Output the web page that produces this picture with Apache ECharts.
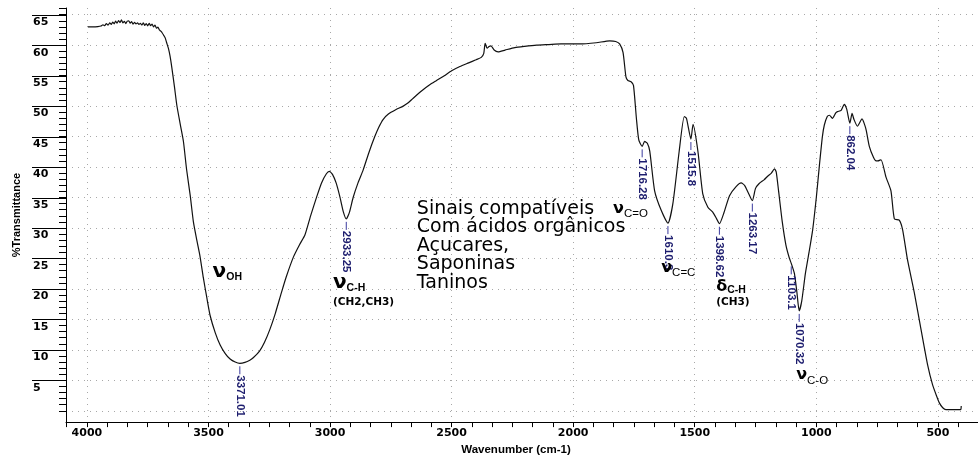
<!DOCTYPE html>
<html>
<head>
<meta charset="utf-8">
<script src="https://cdn.jsdelivr.net/npm/echarts@6/dist/echarts.min.js"></script>
<style>
  html, body { margin: 0; padding: 0; background: #fff; }
  #chart { width: 978px; height: 461px; }
</style>
</head>
<body>
<div id="chart"></div>
<script>
// FTIR spectrum: wavenumber (cm-1) vs % transmittance
const waveNumber = [
  3996, 3975, 3955, 3942, 3934, 3927, 3920, 3913, 3906, 3900, 3894, 3888, 3882, 3876, 3870, 3864,
  3858, 3852, 3846, 3840, 3834, 3828, 3822, 3816, 3810, 3804, 3798, 3792, 3786, 3780, 3774, 3768,
  3762, 3756, 3750, 3744, 3738, 3732, 3726, 3720, 3714, 3708, 3702, 3696, 3690, 3684, 3678, 3672,
  3665, 3658, 3651, 3640, 3630, 3616, 3603, 3590, 3575, 3562, 3548, 3535, 3521, 3507, 3493, 3472,
  3452, 3431, 3411, 3390, 3371.01, 3350, 3330, 3316, 3290, 3270, 3247, 3225, 3200, 3180, 3150, 3125,
  3103, 3080, 3055, 3035, 3015, 3003, 2990, 2975, 2960, 2945, 2933.25, 2920, 2905, 2885, 2864, 2840,
  2816, 2800, 2782, 2760, 2730, 2699, 2680, 2658, 2620, 2590, 2562, 2530, 2500, 2466, 2430, 2400,
  2378, 2368, 2362, 2354, 2346, 2338, 2325, 2309, 2280, 2240, 2200, 2150, 2100, 2050, 1973, 1905,
  1850, 1825, 1809, 1795, 1783, 1775, 1762, 1752, 1740, 1730, 1716.28, 1706, 1695, 1685, 1665, 1638,
  1610.3, 1590, 1564, 1543, 1534, 1515.8, 1507, 1487, 1467, 1446, 1426, 1410, 1398.62, 1380, 1357, 1330,
  1309, 1295, 1280, 1263.17, 1250, 1235, 1215, 1200, 1185, 1172, 1165, 1155, 1140, 1125, 1112, 1103.1,
  1090, 1080, 1070.32, 1060, 1045, 1030, 1015, 1000, 987, 975, 967, 955, 946, 934, 920, 913,
  898, 885, 875, 862.04, 853, 845, 831, 812, 800, 794, 782, 765, 754, 747, 734, 713,
  693, 679, 659, 645, 625, 597, 570, 542, 522, 505, 494, 480, 467, 440, 420, 406, 404
];
const transmittance = [
  63.0, 63.0, 63.05, 63.15, 63.35, 63.2, 63.55, 63.3, 63.65, 63.4, 63.8, 63.5, 63.95, 63.6, 64.05, 63.7,
  64.15, 63.65, 63.9, 63.55, 63.95, 64.0, 63.6, 63.85, 63.45, 63.75, 63.5, 63.65, 63.4, 63.6, 63.3, 63.65,
  63.25, 63.55, 63.15, 63.6, 63.2, 63.45, 63.0, 63.3, 62.8, 62.95, 62.5, 62.3, 62.0, 61.6, 61.2, 60.4,
  59.5, 58.2, 56.4, 53.2, 50.1, 47.0, 44.2, 39.6, 35.3, 31.0, 28.0, 25.4, 21.8, 18.6, 15.6, 12.8,
  10.8, 9.4, 8.5, 8.0, 7.8, 7.95, 8.3, 8.7, 9.8, 11.2, 13.4, 16.0, 19.4, 22.0, 25.3, 27.3,
  28.9, 32.0, 35.1, 37.4, 38.9, 39.3, 38.8, 37.4, 35.2, 32.6, 31.5, 32.6, 35.0, 37.4, 39.5, 42.4,
  45.0, 46.5, 47.8, 48.7, 49.4, 50.0, 50.5, 51.3, 52.6, 53.5, 54.2, 55.0, 55.8, 56.5, 57.1, 57.6,
  58.0, 58.6, 60.3, 59.5, 59.8, 59.9, 59.2, 58.9, 59.2, 59.6, 59.8, 60.0, 60.1, 60.2, 60.2, 60.4,
  60.7, 60.6, 60.2, 58.8, 54.8, 54.2, 54.0, 53.4, 48.0, 44.4, 43.4, 44.2, 43.9, 42.6, 36.1, 32.9,
  30.8, 34.0, 42.6, 48.3, 48.0, 44.6, 47.0, 42.6, 35.6, 33.4, 32.6, 31.5, 30.7, 32.5, 35.3, 36.8,
  37.4, 37.0, 35.8, 34.5, 36.5, 37.3, 37.9, 38.5, 39.0, 39.7, 39.2, 36.0, 31.0, 27.2, 25.2, 24.2,
  22.5, 19.5, 16.4, 18.0, 22.5, 26.0, 29.7, 35.0, 40.4, 45.0, 46.9, 48.3, 48.5, 48.0, 48.9, 49.1,
  49.3, 50.3, 49.5, 47.2, 48.8, 47.8, 46.7, 47.9, 46.8, 45.9, 43.4, 41.6, 41.0, 41.0, 41.2, 38.3,
  36.1, 31.5, 31.3, 29.7, 24.8, 19.4, 13.5, 7.5, 4.3, 2.4, 1.3, 0.5, 0.2, 0.2, 0.2, 0.2, 0.8
];

// Axis tick labels
const xTickLabels = [4000, 3500, 3000, 2500, 2000, 1500, 1000, 500];
const yTickLabels = [65, 60, 55, 50, 45, 40, 35, 30, 25, 20, 15, 10, 5];

// Labelled band minima (wavenumber and transmittance at the minimum)
const peakWn = [3371.01, 2933.25, 1716.28, 1610.3, 1515.8, 1398.62, 1263.17, 1103.1, 1070.32, 862.04];
const peakT  = [7.8, 31.5, 43.4, 30.8, 44.6, 30.7, 34.5, 24.2, 16.4, 47.2];

// Band assignments (glyph, subscript, extra line, anchor in data units)
const noteGlyph = ['ν', 'ν', 'ν', 'ν', 'δ', 'ν'];
const noteSub   = ['OH', 'C-H', 'C=O', 'C=C', 'C-H', 'C-O'];
const noteExtra = ['', '(CH2,CH3)', '', '', '(CH3)', ''];
const noteWn    = [3483, 2988, 1836, 1638, 1412, 1083];
const noteT     = [22.8, 21.0, 33.2, 23.5, 20.3, 5.9];

// Free text block
const blockLines = ['Sinais compatíveis', 'Com ácidos orgânicos', 'Açucares,', 'Saponinas', 'Taninos'];
const blockWn = 2643;
const blockT = 34.7;

const X_MIN = 335, X_MAX = 4086, Y_MIN = -1.85, Y_MAX = 66.1;
const MAJOR_TICK_LEN = 34;

// tick positions derived from the label arrays (ascending order)
const xMajorAsc = xTickLabels.slice().sort((a, b) => a - b);
const yMajorAsc = yTickLabels.slice().sort((a, b) => a - b);
const xMinorTicks = [];
for (let k = 5; k <= 49; k++) xMinorTicks.push(k * 500 / 6);
const yMinorTicks = [];
for (let v = 0; v <= 66; v++) yMinorTicks.push(v);
const yGridValues = [0].concat(yMajorAsc);

const measureCtx = document.createElement('canvas').getContext('2d');
function textWidth(text, font) { measureCtx.font = font; return measureCtx.measureText(text).width; }

const NAVY = '#1d1d6e';
const GRID = { color: '#a8a8a8', width: 1, type: [1, 5] };

const chart = echarts.init(document.getElementById('chart'), null, { renderer: 'canvas' });

const commonX = { type: 'value', inverse: true, min: X_MIN, max: X_MAX, position: 'bottom' };
const commonY = { type: 'value', min: Y_MIN, max: Y_MAX, position: 'left' };

chart.setOption({
  animation: false,
  backgroundColor: '#fff',
  grid: { left: 66, right: 0, top: 8, bottom: 33, containLabel: false },
  xAxis: [
    Object.assign({}, commonX, {
      name: 'Wavenumber (cm-1)',
      nameLocation: 'middle',
      nameGap: 19,
      nameTextStyle: { fontFamily: 'Liberation Sans', fontWeight: 'bold', fontSize: 11.5, color: '#000', padding: [0, 12, 0, 0] },
      axisLine: { show: true, onZero: false, lineStyle: { color: '#000', width: 1 } },
      axisTick: { show: true, inside: false, length: 5, customValues: xMinorTicks, lineStyle: { color: '#000' } },
      axisLabel: {
        show: true, customValues: xMajorAsc, margin: 6,
        formatter: v => String(Math.round(v)),
        fontFamily: 'DejaVu Sans', fontWeight: 'bold', fontSize: 11, color: '#000'
      },
      splitLine: { show: false }
    }),
    Object.assign({}, commonX, {
      axisLine: { show: false, onZero: false },
      axisTick: { show: false, customValues: xMajorAsc },
      axisLabel: { show: false },
      splitLine: { show: true, lineStyle: GRID }
    })
  ],
  yAxis: [
    Object.assign({}, commonY, {
      name: '%Transmittance',
      nameLocation: 'middle',
      nameGap: 44,
      nameRotate: 90,
      nameTextStyle: { fontFamily: 'Liberation Sans', fontWeight: 'bold', fontSize: 11, color: '#000' },
      axisLine: { show: true, onZero: false, lineStyle: { color: '#000', width: 1 } },
      axisTick: { show: true, inside: false, length: 7, customValues: yMinorTicks, lineStyle: { color: '#000' } },
      axisLabel: {
        show: true, customValues: yMajorAsc, color: '#000',
        margin: 33, align: 'left', verticalAlign: 'top', padding: [2, 0, 0, 0],
        formatter: v => String(Math.round(v)),
        fontFamily: 'DejaVu Sans', fontWeight: 'bold', fontSize: 11
      },
      splitLine: { show: false }
    }),
    Object.assign({}, commonY, {
      axisLine: { show: false, onZero: false },
      axisTick: { show: false, customValues: yGridValues },
      axisLabel: { show: false },
      splitLine: { show: true, lineStyle: GRID }
    })
  ],
  series: [
    {
      name: 'spectrum',
      type: 'line',
      xAxisIndex: 0,
      yAxisIndex: 0,
      data: waveNumber.map((w, i) => [w, transmittance[i]]),
      showSymbol: false,
      smooth: 0.2,
      lineStyle: { color: '#111', width: 1.2 },
      z: 3
    },
    {
      // long major ticks on the y axis, running left from the axis over each label
      name: 'majorTicks',
      type: 'custom',
      xAxisIndex: 0,
      yAxisIndex: 0,
      clip: false,
      silent: true,
      data: yMajorAsc.map(v => [X_MAX, v]),
      z: 2,
      renderItem: function (params, api) {
        const p = api.coord([api.value(0), api.value(1)]);
        const y = Math.round(p[1]) + 0.5;
        return {
          type: 'line',
          shape: { x1: p[0] - MAJOR_TICK_LEN, y1: y, x2: p[0], y2: y },
          style: { stroke: '#000', lineWidth: 1 }
        };
      }
    },
    {
      name: 'peaks',
      type: 'custom',
      xAxisIndex: 0,
      yAxisIndex: 0,
      data: peakWn.map((w, i) => [w, peakT[i]]),
      z: 4,
      renderItem: function (params, api) {
        const p = api.coord([api.value(0), api.value(1)]);
        const y0 = p[1] + 3;
        return {
          type: 'group',
          children: [
            { type: 'line', shape: { x1: p[0], y1: y0, x2: p[0], y2: y0 + 8 }, style: { stroke: '#3a3a9e', lineWidth: 1 } },
            {
              type: 'text', x: p[0], y: y0 + 9, rotation: -Math.PI / 2,
              style: {
                text: String(peakWn[params.dataIndex]), x: 0, y: 0,
                align: 'left', verticalAlign: 'middle',
                fill: NAVY, font: 'bold 11.5px "Liberation Sans"'
              }
            }
          ]
        };
      }
    },
    {
      name: 'assignments',
      type: 'custom',
      xAxisIndex: 0,
      yAxisIndex: 0,
      data: noteWn.map((w, i) => [w, noteT[i]]),
      z: 5,
      renderItem: function (params, api) {
        const i = params.dataIndex;
        const p = api.coord([api.value(0), api.value(1)]);
        const big = i < 2;
        const glyphFont = 'bold ' + (big ? 20 : 16) + 'px "DejaVu Sans"';
        const subFont = (big || i === 4 ? 'bold ' : '') + (big || i === 4 ? 10.5 : 11.5) + 'px "Liberation Sans"';
        const gw = textWidth(noteGlyph[i], glyphFont);
        const subDy = i === 4 ? 3 : 5.5;
        const children = [
          { type: 'text', x: p[0], y: p[1], style: { text: noteGlyph[i], align: 'left', verticalAlign: 'middle', fill: '#000', font: glyphFont } },
          { type: 'text', x: p[0] + gw, y: p[1] + subDy, style: { text: noteSub[i], align: 'left', verticalAlign: 'middle', fill: '#000', font: subFont } }
        ];
        if (noteExtra[i]) {
          children.push({
            type: 'text', x: p[0], y: p[1] + (i === 4 ? 15 : 19),
            style: { text: noteExtra[i], align: 'left', verticalAlign: 'middle', fill: '#000', font: 'bold 10.5px "DejaVu Sans"' }
          });
        }
        return { type: 'group', children: children };
      }
    },
    {
      name: 'block',
      type: 'custom',
      xAxisIndex: 0,
      yAxisIndex: 0,
      data: [[blockWn, blockT]],
      z: 5,
      renderItem: function (params, api) {
        const p = api.coord([api.value(0), api.value(1)]);
        return {
          type: 'text', x: p[0], y: p[1],
          style: {
            text: blockLines.join('\n'), align: 'left', verticalAlign: 'top',
            lineHeight: 18.5, fill: '#000', font: '19px "DejaVu Sans"'
          }
        };
      }
    }
  ]
});
</script>
</body>
</html>
